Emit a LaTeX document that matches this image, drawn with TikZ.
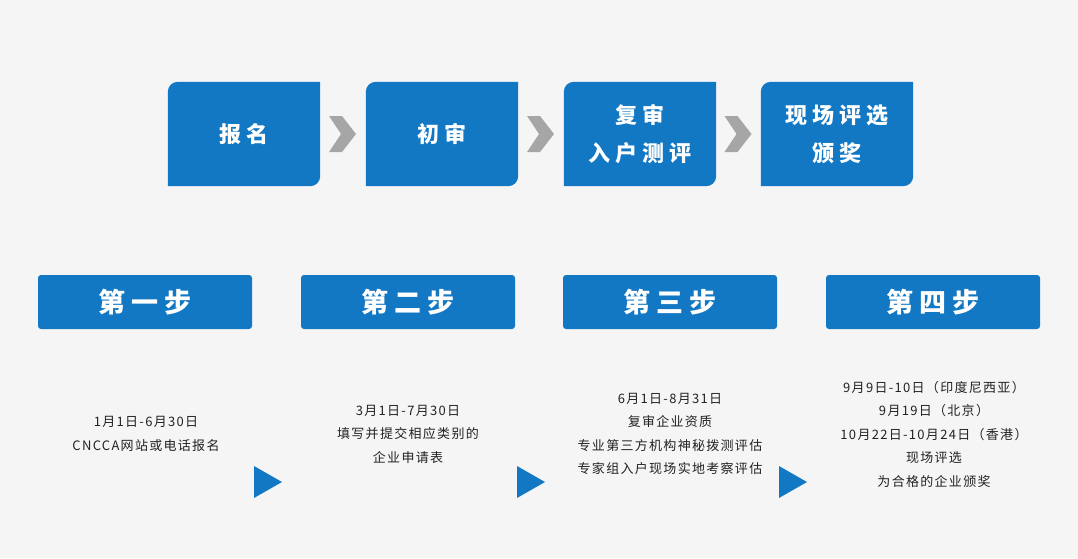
\documentclass[tikz,border=0pt]{standalone}
\usepackage{fontspec}
\setmainfont{Noto Sans CJK SC}
\newfontfamily\topfont{Noto Sans CJK SC}[LetterSpace=22]
\newfontfamily\stepfont{Noto Sans CJK SC}[LetterSpace=22]
\newfontfamily\bodyfont{Noto Sans CJK SC}[LetterSpace=10]
\usetikzlibrary{calc,backgrounds}
\definecolor{bgcol}{HTML}{F5F5F5}
\definecolor{boxblue}{HTML}{1278C4}
\definecolor{chevgray}{HTML}{A6A6A6}
\definecolor{txtcol}{HTML}{222222}
\tikzset{
  topbox/.style={minimum width=152pt, minimum height=104pt,
    text=white, align=center, inner sep=0pt, font=\topfont\bfseries\fontsize{22}{38}\selectfont},
  stepbox/.style={fill=boxblue, rounded corners=3pt, minimum width=214pt, minimum height=54pt,
    text=white, inner sep=0pt, font=\stepfont\bfseries\fontsize{27}{30}\selectfont},
  bodytext/.style={text=txtcol, align=center, inner sep=0pt, font=\bodyfont\fontsize{13}{23.5}\selectfont},
}
\newcommand{\topshape}[1]{%
  \fill[boxblue] (#1.south west) -- ([yshift=-10pt]#1.north west)
    arc[start angle=180,end angle=90,radius=10pt] -- (#1.north east)
    -- ([yshift=10pt]#1.south east) arc[start angle=0,end angle=-90,radius=10pt] -- cycle;}
\newcommand{\chevronat}[1]{%
  \fill[chevgray] ($(#1)+(-14,-18)$) -- ($(#1)+(-1,-18)$) -- ($(#1)+(13,0)$) -- ($(#1)+(-1,18)$) -- ($(#1)+(-14,18)$) -- ($(#1)+(-2,0)$) -- cycle;}
\newcommand{\triangleat}[1]{%
  \fill[boxblue] ($(#1)+(-14,-16)$) -- ($(#1)+(14,0)$) -- ($(#1)+(-14,16)$) -- cycle;}
\begin{document}
\begin{tikzpicture}[x=1pt,y=-1pt]
\useasboundingbox (0,0) rectangle (1078,558);

% top process boxes
\node[topbox] (b1) at (244,134) {报名};
\node[topbox] (b2) at (442,134) {初审};
\node[topbox] (b3) at (640,134) {复审\\入户测评};
\node[topbox] (b4) at (837,134) {现场评选\\颁奖};
\begin{scope}[on background layer]
\fill[bgcol] (0,0) rectangle (1078,558);
\topshape{b1}
\topshape{b2}
\topshape{b3}
\topshape{b4}
\end{scope}

% chevrons between boxes
\coordinate (c12) at ($(b1.east)!0.5!(b2.west)$);
\coordinate (c23) at ($(b2.east)!0.5!(b3.west)$);
\coordinate (c34) at ($(b3.east)!0.5!(b4.west)$);
\chevronat{c12}
\chevronat{c23}
\chevronat{c34}

% step boxes
\node[stepbox] (s1) at (145,302) {第一步};
\node[stepbox] (s2) at (408,302) {第二步};
\node[stepbox] (s3) at (670,302) {第三步};
\node[stepbox] (s4) at (933,302) {第四步};

% step texts
\node[bodytext] (t1) at (146,434) {1月1日-6月30日\\CNCCA网站或电话报名};
\node[bodytext] (t2) at (408,434) {3月1日-7月30日\\填写并提交相应类别的\\企业申请表};
\node[bodytext] (t3) at (670,434) {6月1日-8月31日\\复审企业资质\\专业第三方机构神秘拨测评估\\专家组入户现场实地考察评估};
\node[bodytext] (t4) at (934,434) {9月9日-10日（印度尼西亚）\\9月19日（北京）\\10月22日-10月24日（香港）\\现场评选\\为合格的企业颁奖};

% blue triangles
\coordinate (p1) at (268,482);
\coordinate (p2) at (531,482);
\coordinate (p3) at (793,482);
\triangleat{p1}
\triangleat{p2}
\triangleat{p3}
\end{tikzpicture}
\end{document}
